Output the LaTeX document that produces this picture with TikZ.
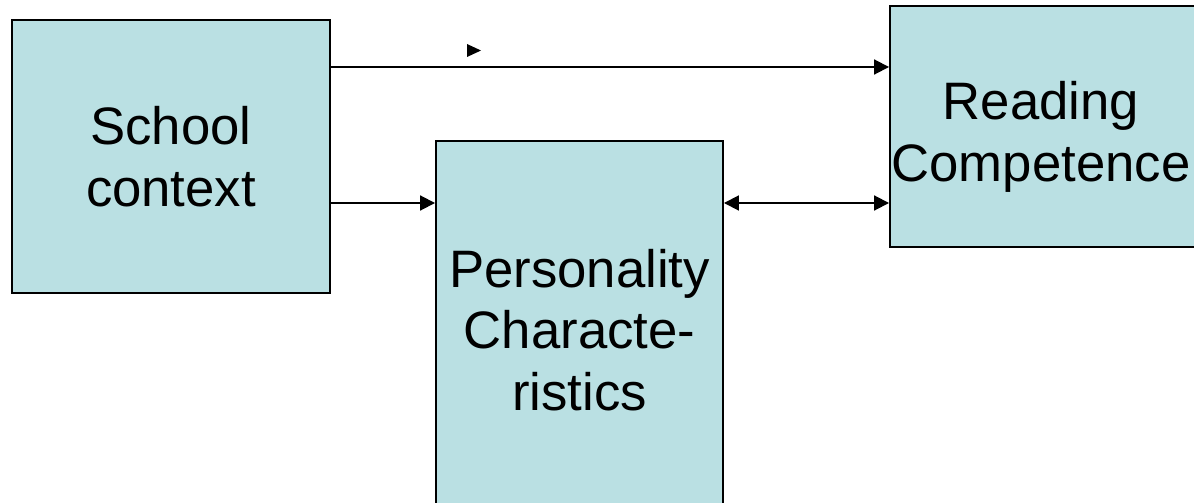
\documentclass[tikz,border=0pt]{standalone}
\usepackage{fontspec}
\setmainfont{Liberation Sans}
\usetikzlibrary{arrows.meta}
\definecolor{boxfill}{RGB}{186,224,227}
\tikzset{
  blk/.style={draw=black, line width=1.1pt, fill=boxfill, inner sep=0pt, align=center,
    font=\fontsize{30}{35}\selectfont},
  txt/.style={inner sep=0pt, align=center, font=\fontsize{30}{35}\selectfont},
  conn/.style={line width=1.1pt, -{Triangle[length=8.5pt,width=8.5pt]}},
  dconn/.style={line width=1.1pt, {Triangle[length=8.5pt,width=8.5pt]}-{Triangle[length=8.5pt,width=8.5pt]}}
}
\begin{document}
\begin{tikzpicture}[x=0.02cm,y=-0.02cm]
\useasboundingbox (0,0) rectangle (1194,503);
\begin{scope}
\clip (0,0) rectangle (1194,503);
\node[blk, minimum width=318*0.02cm, minimum height=273*0.02cm] (school) at (171,156.5) {School\\context};
\node[blk, minimum width=287*0.02cm, minimum height=378*0.02cm] (pers) at (579.5,330) {Personality\\Characte-\\ristics};
\node[blk, minimum width=307*0.02cm, minimum height=241*0.02cm] (read) at (1043.5,126.5) {};
\node[txt] (readtxt) at (1041,137) {Reading\\Competence};
\end{scope}
\coordinate (s1) at (school.east |- 0,67);
\coordinate (r1) at (read.west |- 0,67);
\coordinate (s2) at (school.east |- 0,203);
\coordinate (p2) at (pers.west |- 0,203);
\coordinate (p3) at (pers.east |- 0,203);
\coordinate (r3) at (read.west |- 0,203);
\draw[conn] (s1) -- (r1);
\draw[conn] (s2) -- (p2);
\draw[dconn] (p3) -- (r3);
\fill (467,44) -- (481,50.5) -- (467,57) -- cycle;
\end{tikzpicture}
\end{document}
